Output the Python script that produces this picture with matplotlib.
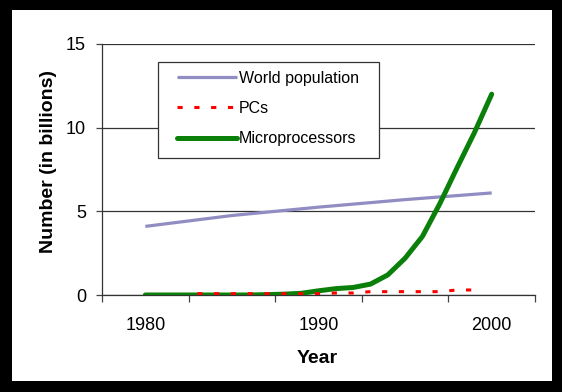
import matplotlib.pyplot as plt
from matplotlib.patches import Rectangle

plt.rcParams['font.family'] = ['Liberation Sans', 'DejaVu Sans']

# series values (billions)
pop_years = [1980, 1985, 1990, 1995, 2000]
world_population = [4.1, 4.75, 5.25, 5.7, 6.1]

pc_years = list(range(1983, 2000))
pcs = [0.08, 0.08, 0.08, 0.08, 0.08, 0.08, 0.08, 0.08,
       0.12, 0.12, 0.2, 0.2, 0.2, 0.2, 0.2, 0.3, 0.3]

mp_years = list(range(1980, 2001))
microprocessors = [0.0, 0.0, 0.0, 0.0, 0.0, 0.0, 0.0, 0.02, 0.05, 0.1,
                   0.25, 0.38, 0.45, 0.65, 1.2, 2.2, 3.5, 5.45, 7.6, 9.7, 12.0]

year_labels = [1980, 1990, 2000]
y_ticks = [0, 5, 10, 15]

fig = plt.figure(figsize=(5.62, 3.92), dpi=100, facecolor='black')
fig.patches.append(Rectangle((12 / 562, 11 / 392), 540 / 562, 371 / 392,
                             transform=fig.transFigure, facecolor='white',
                             edgecolor='none', zorder=-10))

ax = fig.add_axes([102 / 562, 97 / 392, 433 / 562, 251 / 392])
ax.set_facecolor('none')

ax.plot(pop_years, world_population, color='#918dc2', lw=2.3,
        label='World population', solid_capstyle='butt', zorder=3)
ax.plot(pc_years, pcs, color='#ff0000', lw=2.2, linestyle=(0, (1.7, 3.8)),
        label='PCs', zorder=4)
ax.plot(mp_years, microprocessors, color='#0a800a', lw=3.6,
        label='Microprocessors', solid_capstyle='round',
        solid_joinstyle='round', zorder=3)

ax.set_xlim(1977.5, 2002.5)
ax.set_ylim(0, 15)
ax.set_yticks(y_ticks)
ax.set_xticks(year_labels)
ax.set_xticks([1977.5 + 5 * k for k in range(6)], minor=True)
ax.tick_params(axis='x', which='major', length=0, pad=16, labelsize=13)
ax.tick_params(axis='x', which='minor', length=5, width=0.9, color='#444444',
               direction='out')
ax.tick_params(axis='y', length=4.5, width=0.9, color='#444444', pad=7,
               labelsize=13)

ax.grid(axis='y', color='#333333', lw=0.9, zorder=1)
for side in ('top', 'right'):
    ax.spines[side].set_visible(False)
for side in ('left', 'bottom'):
    ax.spines[side].set_color('#333333')
    ax.spines[side].set_linewidth(0.9)

ax.set_xlabel('Year', fontsize=14, fontweight='bold')
ax.xaxis.set_label_coords(0.497, -0.22)
ax.set_ylabel('Number (in billions)', fontsize=14, fontweight='bold')
ax.yaxis.set_label_coords(-0.105, 0.53)

# legend box
ax.add_patch(Rectangle((0.129, 0.546), 0.511, 0.382, transform=ax.transAxes,
                       facecolor='white', edgecolor='#333333', lw=0.9,
                       zorder=5))
leg = ax.legend(loc='center left', bbox_to_anchor=(0.173, 0.743),
                frameon=False, fontsize=11.5, handlelength=3.75,
                handletextpad=0.12, labelspacing=0.95, borderpad=0,
                borderaxespad=0)
leg.set_zorder(6)

fig.savefig('out.png', dpi=100, facecolor=fig.get_facecolor())
